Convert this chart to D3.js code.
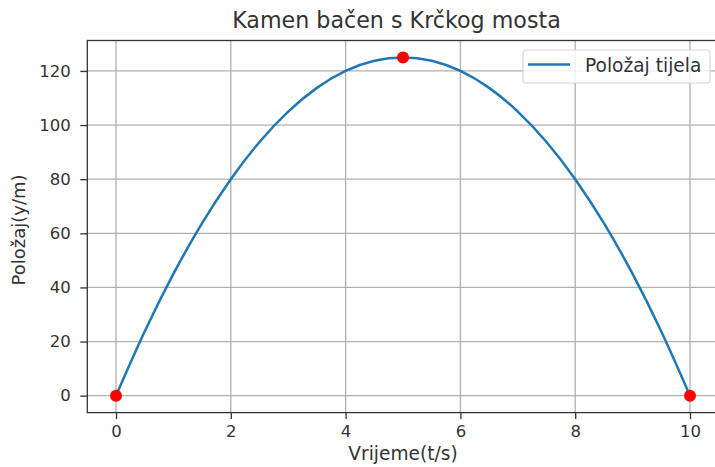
<!DOCTYPE html>
<html><head><meta charset="utf-8">
<script src="https://cdn.jsdelivr.net/npm/d3@7"></script>
<style>body{margin:0;background:#fff}svg{display:block;font-family:"DejaVu Sans",sans-serif}</style>
</head><body>
<svg id="c" width="715" height="467"></svg>
<script>
const times = [0,0.5,1,1.5,2,2.5,3,3.5,4,4.5,5,5.5,6,6.5,7,7.5,8,8.5,9,9.5,10];
const positions = [0,23.75,45,63.75,80,93.75,105,113.75,120,123.75,125,123.75,120,113.75,105,93.75,80,63.75,45,23.75,0];
const markT = [0,5,10];
const markY = [0,125,0];
const xTicks = [0,2,4,6,8,10];
const yTicks = [0,20,40,60,80,100,120];
const title = "Kamen bačen s Krčkog mosta";
const xLabel = "Vrijeme(t/s)";
const yLabel = "Položaj(y/m)";
const legendLabel = "Položaj tijela";

const L=87.3, R=718.7, T=40.5, B=412.6;
const svg=d3.select("#c");
const x=d3.scaleLinear().domain([-0.5,10.5]).range([L,R]);
const y=d3.scaleLinear().domain([-6.25,131.25]).range([B,T]);
const fs=16.5;

const g=svg.append("g");
g.selectAll(".gx").data(xTicks).join("line").attr("x1",d=>x(d)).attr("x2",d=>x(d)).attr("y1",T).attr("y2",B).attr("stroke","#b0b0b0").attr("stroke-width",1.3);
g.selectAll(".gy").data(yTicks).join("line").attr("y1",d=>y(d)).attr("y2",d=>y(d)).attr("x1",L).attr("x2",R).attr("stroke","#b0b0b0").attr("stroke-width",1.3);

const xa=svg.append("g").attr("transform",`translate(0,${B})`).call(d3.axisBottom(x).tickValues(xTicks).tickSize(6.5).tickPadding(6).tickFormat(d3.format("d")));
const ya=svg.append("g").attr("transform",`translate(${L},0)`).call(d3.axisLeft(y).tickValues(yTicks).tickSize(7).tickPadding(9.5).tickFormat(d3.format("d")));
[xa,ya].forEach(a=>{a.select(".domain").remove();a.selectAll("line").attr("stroke","#333").attr("stroke-width",1.3);a.selectAll("text").attr("font-size",fs).attr("fill","#333").attr("font-family","DejaVu Sans");});

svg.append("rect").attr("x",L).attr("y",T).attr("width",R-L).attr("height",B-T).attr("fill","none").attr("stroke","#333").attr("stroke-width",1.3);

svg.append("path").datum(times.map((t,i)=>[t,positions[i]])).attr("d",d3.line().x(d=>x(d[0])).y(d=>y(d[1])).curve(d3.curveMonotoneX)).attr("fill","none").attr("stroke","#1f77b4").attr("stroke-width",2.5);

svg.selectAll(".m").data(markT).join("circle").attr("cx",d=>x(d)).attr("cy",(d,i)=>y(markY[i])).attr("r",6).attr("fill","#ff0000");

svg.append("text").attr("x",396.5).attr("y",28).attr("text-anchor","middle").attr("font-size",22.2).attr("fill","#333").text(title);
svg.append("text").attr("x",403).attr("y",460).attr("text-anchor","middle").attr("font-size",18.6).attr("fill","#333").text(xLabel);
svg.append("text").attr("transform",`translate(25,230) rotate(-90)`).attr("text-anchor","middle").attr("font-size",18).attr("fill","#333").text(yLabel);

const lg=svg.append("g");
lg.append("rect").attr("x",523).attr("y",50).attr("width",187).attr("height",33).attr("rx",3).attr("fill","#fff").attr("fill-opacity",0.8).attr("stroke","#d8d8d8").attr("stroke-width",1.2);
lg.append("line").attr("x1",528).attr("x2",570).attr("y1",64.5).attr("y2",64.5).attr("stroke","#1f77b4").attr("stroke-width",2.5);
lg.append("text").attr("x",585).attr("y",71.5).attr("font-size",18.6).attr("fill","#333").text(legendLabel);
</script>
</body></html>
